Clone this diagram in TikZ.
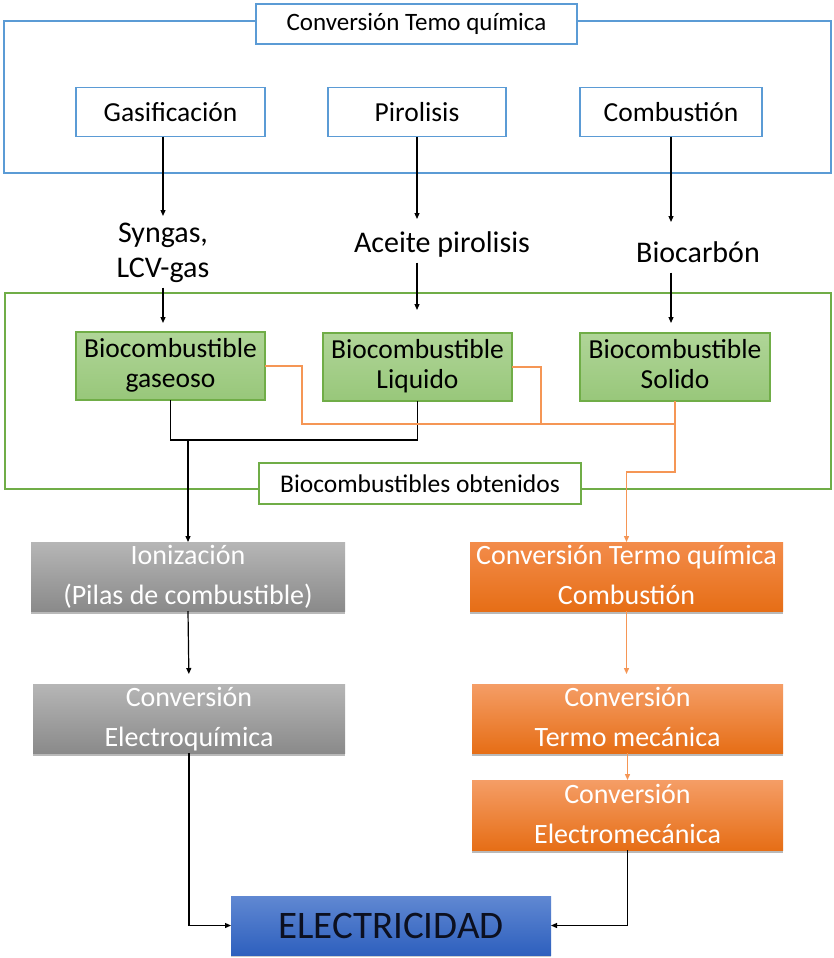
\documentclass[tikz,border=0pt]{standalone}
\usepackage{fontspec}
\setmainfont{Carlito}
\usetikzlibrary{arrows.meta,shadows}
\definecolor{frameblue}{RGB}{91,155,213}
\definecolor{framegreen}{RGB}{112,173,71}
\definecolor{leafA}{RGB}{176,213,152}
\definecolor{leafB}{RGB}{152,199,122}
\definecolor{wire}{RGB}{245,150,85}
\definecolor{greyA}{RGB}{182,182,182}
\definecolor{greyB}{RGB}{138,138,138}
\definecolor{orA}{RGB}{243,140,75}
\definecolor{orB}{RGB}{230,110,22}
\definecolor{elA}{RGB}{96,136,210}
\definecolor{elB}{RGB}{46,96,190}
\definecolor{ink}{RGB}{12,16,32}
\tikzset{
  plain/.style={inner sep=0pt, outer sep=0pt, align=center},
  stepbluebox/.style={plain, draw=frameblue, line width=1.6pt, fill=white,
    font=\fontsize{27.5}{30}\selectfont},
  fuelbox/.style={plain, draw=framegreen, line width=1.4pt,
    top color=leafA, bottom color=leafB, font=\fontsize{27.5}{30}\selectfont},
  flowlabel/.style={plain, font=\fontsize{30}{35}\selectfont},
  greybox/.style={plain, top color=greyA, bottom color=greyB,
    drop shadow={shadow xshift=0pt, shadow yshift=-2.5pt, opacity=0.55}},
  orangebox/.style={plain, top color=orA, bottom color=orB,
    drop shadow={shadow xshift=0pt, shadow yshift=-2.5pt, opacity=0.55}},
  boxtext/.style={plain, text=white, font=\fontsize{28}{40}\selectfont},
  arr/.style={-{Triangle[length=6pt,width=5pt]}, line width=1.2pt, black},
  blk/.style={line width=1.2pt, black},
  ol/.style={line width=1.3pt, wire},
  olarr/.style={ol, -{Triangle[length=6pt,width=5pt]}},
}
\begin{document}
\begin{tikzpicture}[x=1pt, y=-1pt]
\useasboundingbox (0,0) rectangle (833,958);
\fill[white] (0,0) rectangle (833,958);

% thermochemical conversion group
\draw[frameblue, line width=1.6pt] (4,21) rectangle (831,173);
\node[stepbluebox, font=\fontsize{25}{30}\selectfont, minimum width=321, minimum height=40] (title) at (416.5,24) {Conversión Temo química};
\node[stepbluebox, minimum width=189, minimum height=49] (gas) at (170.5,112) {Gasificación};
\node[stepbluebox, minimum width=178, minimum height=49] (pir) at (417,112) {Pirolisis};
\node[stepbluebox, minimum width=182, minimum height=49] (comb) at (671,112) {Combustión};

% intermediate products
\node[flowlabel] (syn) at (163,252.5) {\strut Syngas,\\\strut LCV-gas};
\node[flowlabel] (ace) at (442,245) {\strut Aceite pirolisis};
\node[flowlabel] (bio) at (698,255) {\strut Biocarbón};

% biofuels group
\draw[framegreen, line width=1.4pt] (5,293) rectangle (831,489);
\node[fuelbox, minimum width=189, minimum height=68] (gase) at (170.5,366) {\strut Biocombustible\\\strut gaseoso};
\node[fuelbox, minimum width=189, minimum height=68] (liq) at (417.5,367) {\strut Biocombustible\\\strut Liquido};
\node[fuelbox, minimum width=190, minimum height=68] (sol) at (675,367) {\strut Biocombustible\\\strut Solido};
\node[stepbluebox, draw=framegreen, line width=1.4pt, font=\fontsize{25.5}{30}\selectfont,
  minimum width=322, minimum height=41] (obt) at (420,483.5) {Biocombustibles obtenidos};

% conversion chains: boxes, then their captions
\node[greybox, minimum width=314, minimum height=69] (ion) at (188,576.5) {};
\node[greybox, minimum width=312, minimum height=69] (ech) at (189,718.5) {};
\node[orangebox, minimum width=313, minimum height=69] (ctq) at (626.5,576.5) {};
\node[orangebox, top color=orA!85!white, minimum width=311, minimum height=69] (tm) at (627.5,718.5) {};
\node[orangebox, top color=orA!85!white, minimum width=311, minimum height=70] (em) at (627.5,815) {};
\node[boxtext] (ionT) at (ion.center) {\strut Ionización\\\strut (Pilas de combustible)};
\node[boxtext] (echT) at (ech.center) {\strut Conversión\\\strut Electroquímica};
\node[boxtext] (ctqT) at (ctq.center) {\strut Conversión Termo química\\\strut Combustión};
\node[boxtext] (tmT) at (tm.center) {\strut Conversión\\\strut Termo mecánica};
\node[boxtext] (emT) at (em.center) {\strut Conversión\\\strut Electromecánica};
\node[plain, top color=elA, bottom color=elB, text=ink, minimum width=320, minimum height=59,
  drop shadow={shadow xshift=0pt, shadow yshift=-2pt, opacity=0.4},
  font=\fontsize{39}{40}\selectfont] (elec) at (391,925.5) {ELECTRICIDAD};

% process to product arrows
\draw[arr, shorten >=1.5pt] (gas.south -| syn.north) -- (syn.north);
\draw[arr, shorten >=8.5pt] (pir.south) -- (pir.south |- ace.north);
\draw[arr, shorten >=15.5pt] (comb.south) -- (comb.south |- bio.north);
\draw[arr, shorten >=9pt] (syn.south) -- (syn.south |- gase.north);
\draw[arr, shorten >=23pt] (pir.south |- ace.south) -- (pir.south |- liq.north);
\draw[arr, shorten >=10pt] (comb.south |- bio.south) -- (comb.south |- sol.north);

% gaseous and liquid fuels to fuel cells
\coordinate (j1) at (188,440);
\draw[blk] (gase.south) |- (j1) -| (liq.south);
\draw[arr] (j1) -- (ion.north);

% all fuels to combustion
\coordinate (oj) at (675,424);
\draw[ol] (gase.east) -- ++(37,0) |- (oj);
\draw[ol] (liq.east) -- ++(29,0) |- (oj);
\coordinate (oj2) at (675,472);
\draw[olarr] (sol.south) -- (oj2) -| (ctq.north);

% chains
\draw[arr, shorten >=10pt] (ion.south) -- (ech.north);
\draw[olarr, shorten >=10pt] (ctq.south) -- (ctq.south |- tm.north);
\draw[olarr] (tm.south) -- (em.north);
\draw[arr] (ech.south) |- (elec.west);
\draw[arr] (em.south) |- (elec.east);
\end{tikzpicture}
\end{document}
